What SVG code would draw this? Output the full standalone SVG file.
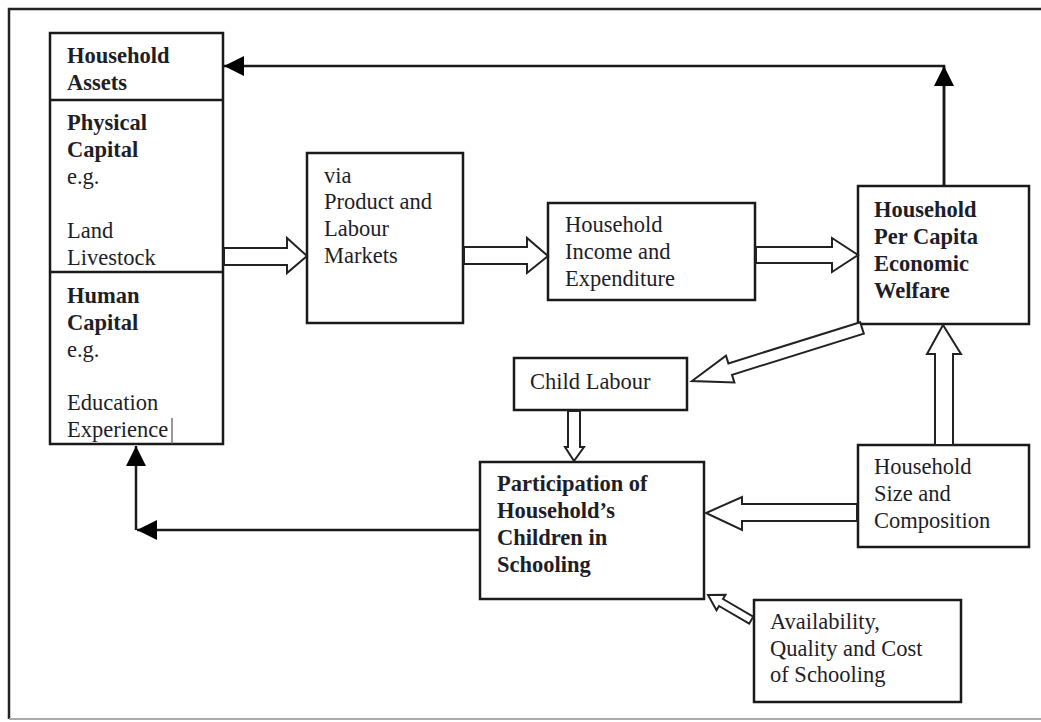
<svg xmlns="http://www.w3.org/2000/svg" width="1041" height="722" viewBox="0 0 1041 722">
<defs>
<style>
.box{fill:#fff;stroke:#1a1a1a;stroke-width:2.5}
.div{stroke:#1a1a1a;stroke-width:2.5}
.t{font-family:"Liberation Serif","Times New Roman",serif;font-size:22.5px;fill:#1e1e28}
.b{font-weight:bold}
.blk{fill:#fff;stroke:#222;stroke-width:2;stroke-linejoin:miter}
.ln{fill:none;stroke:#1a1a1a;stroke-width:2.5}
</style>
<marker id="ah" viewBox="0 0 20 20" refX="20" refY="10" markerWidth="20" markerHeight="20" markerUnits="userSpaceOnUse" orient="auto">
<path d="M0,0 L20,10 L0,20 Z" fill="#000"/>
</marker>
</defs>
<rect width="1041" height="722" fill="#fff"/>
<g id="frame">
<path d="M1045,9 H9 V719" fill="none" stroke="#222" stroke-width="2.5"/>
<line x1="9" y1="719" x2="1041" y2="719" stroke="#aaa" stroke-width="2"/>
</g>

<g id="assets">
<rect class="box" x="50" y="33" width="173" height="411"/>
<line class="div" x1="50" y1="100" x2="223" y2="100"/>
<line class="div" x1="50" y1="272" x2="223" y2="272"/>
<text class="t b" x="67" y="63">Household</text>
<text class="t b" x="67" y="90">Assets</text>
<text class="t b" x="67" y="130">Physical</text>
<text class="t b" x="67" y="157">Capital</text>
<text class="t" x="67" y="184">e.g.</text>
<text class="t" x="67" y="238">Land</text>
<text class="t" x="67" y="265">Livestock</text>
<text class="t b" x="67" y="303">Human</text>
<text class="t b" x="67" y="330">Capital</text>
<text class="t" x="67" y="357">e.g.</text>
<text class="t" x="67" y="410">Education</text>
<text class="t" x="67" y="437">Experience</text>
<line x1="172" y1="418" x2="172" y2="444" stroke="#555" stroke-width="1.2"/>
</g>

<g id="markets">
<rect class="box" x="307" y="153" width="156" height="170"/>
<text class="t" x="324" y="183">via</text>
<text class="t" x="324" y="209">Product and</text>
<text class="t" x="324" y="236">Labour</text>
<text class="t" x="324" y="263">Markets</text>
</g>

<g id="income">
<rect class="box" x="548" y="203" width="207" height="97"/>
<text class="t" x="565" y="232">Household</text>
<text class="t" x="565" y="259">Income and</text>
<text class="t" x="565" y="286">Expenditure</text>
</g>

<g id="welfare">
<rect class="box" x="858" y="186" width="171" height="138"/>
<text class="t b" x="874" y="217">Household</text>
<text class="t b" x="874" y="244">Per Capita</text>
<text class="t b" x="874" y="271">Economic</text>
<text class="t b" x="874" y="298">Welfare</text>
</g>

<g id="childlabour">
<rect class="box" x="514" y="358" width="173" height="52"/>
<text class="t" x="530" y="389">Child Labour</text>
</g>

<g id="participation">
<rect class="box" x="480" y="462" width="224" height="137"/>
<text class="t b" x="497" y="491">Participation of</text>
<text class="t b" x="497" y="518">Household’s</text>
<text class="t b" x="497" y="545">Children in</text>
<text class="t b" x="497" y="572">Schooling</text>
</g>

<g id="hhsize">
<rect class="box" x="858" y="445" width="171" height="102"/>
<text class="t" x="874" y="474">Household</text>
<text class="t" x="874" y="501">Size and</text>
<text class="t" x="874" y="528">Composition</text>
</g>

<g id="availability">
<rect class="box" x="754" y="600" width="207" height="102"/>
<text class="t" x="770" y="629">Availability,</text>
<text class="t" x="770" y="656">Quality and Cost</text>
<text class="t" x="770" y="682">of Schooling</text>
</g>

<g id="connectors">
<!-- block arrows -->
<polygon class="blk" points="224,248 287,248 287,238 307,256 287,273 287,265 224,265"/>
<polygon class="blk" points="464,247 527,247 527,238 548,256 527,273 527,264 464,264"/>
<polygon class="blk" points="756,247 832,247 832,238 858,255 832,272 832,263 756,263"/>
<polygon class="blk" points="860.2,322.3 728.4,363.4 726,355.7 692,381 734.4,382.5 732,374.8 863.8,333.7"/>
<polygon class="blk" points="935,445 935,354 927,354 943,325 961,354 953,354 953,445"/>
<polygon class="blk" points="568,411 568,447 565,447 574,461 584,447 580,447 580,411"/>
<polygon class="blk" points="857,504 742,504 742,497 706,513 742,530 742,521 857,521"/>
<polygon class="blk" points="753.2,616.7 723,599 725.5,594.7 708,595 716.5,610.3 719,606 749.2,623.7"/>
<!-- line arrows -->
<path class="ln" d="M944,186 V66 H224" marker-end="url(#ah)"/>
<line class="ln" x1="944" y1="186" x2="944" y2="66" marker-end="url(#ah)"/>
<line class="ln" x1="479" y1="530" x2="137" y2="530" marker-end="url(#ah)"/>
<path class="ln" d="M136,530 V446" marker-end="url(#ah)"/>
</g>
</svg>
